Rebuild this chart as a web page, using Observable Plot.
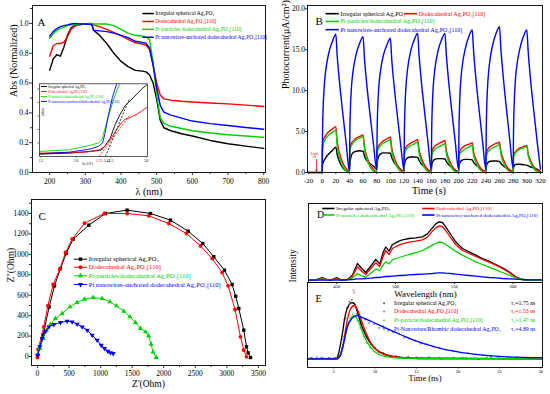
<!DOCTYPE html>
<html>
<head>
<meta charset="utf-8">
<script src="https://cdn.jsdelivr.net/npm/d3@7"></script>
<script src="https://cdn.jsdelivr.net/npm/@observablehq/plot@0.6"></script>
<style>
html,body{margin:0;padding:0;background:#fff;}
#wrap{position:relative;width:550px;height:394px;overflow:hidden;background:#fff;}
</style>
</head>
<body>
<div id="wrap"></div>
<script>
// ================= DATA =================
// Panel A : UV-vis absorption (normalized)
const absWl    = [200,210,220,230,240,250,260,270,280,300,318,323,340,360,380,400,420,440,460,470,480,490,500,510,520,540,570,600,650,700,750,800];
const absBlack = [.685,.76,.79,.78,.84,.92,.97,.985,.99,.995,1.0,.955,.92,.865,.80,.745,.71,.685,.68,.675,.655,.60,.49,.35,.30,.28,.26,.245,.215,.193,.177,.162];
const absRed   = [.78,.85,.865,.865,.875,.91,.96,.98,.99,.995,.997,.99,.978,.96,.94,.918,.893,.87,.862,.855,.825,.72,.60,.52,.494,.485,.478,.473,.466,.46,.452,.443];
const absGreen = [.90,.93,.952,.966,.975,.985,.99,.993,.996,.998,1.0,.997,.996,.996,.985,.96,.935,.92,.915,.91,.89,.74,.52,.37,.33,.31,.295,.28,.265,.253,.245,.236];
const absBlue  = [.915,.945,.965,.978,.985,.99,.996,1.0,.998,.996,.993,.955,.95,.945,.935,.92,.905,.88,.873,.868,.835,.72,.57,.45,.405,.385,.365,.345,.328,.315,.302,.29];
const absXTicks = [200,300,400,500,600,700,800];
const absYTicks = [0,0.2,0.4,0.6,0.8,1.0];
const labelsA = ["Irregular spherical Ag₃PO₄","Dodecahedral Ag₃PO₄[110]","Pt-particles dodecahedral Ag₃PO₄[110]","Pt nanowires-anchored dodecahedral Ag₃PO₄[110]"];

// Inset of A : Tauc plot
const insBlackE = [1.48,1.91,2.30,2.37,2.41,2.49,2.56,2.63,2.70,2.80,2.87,2.94,3.01];
const insBlackY = [7,10,17,20,30,55,95,125,150,170,185,200,212];
const insRedE   = [1.48,2.15,2.34,2.41,2.49,2.58,2.65,2.70,2.77,2.87,2.94,3.01];
const insRedY   = [10,13,20,30,50,80,100,110,115,125,135,145];
const insGreenE = [1.48,1.91,2.20,2.32,2.37,2.41,2.46,2.53,2.62];
const insGreenY = [15,20,33,40,50,80,115,165,215];
const insBlueE  = [1.48,1.91,2.20,2.32,2.38,2.41,2.46,2.52,2.58];
const insBlueY  = [8,13,22,30,40,65,120,175,215];
const insGapBlack = [2.42, 2.76, 0, 170];
const insGapRed   = [2.33, 2.78, 0, 125];
const insXTicks = [1.5,2.0,2.5,3.0];
const labelsInset = ["Irregular spherical Ag₃PO₄","Dodecahedral Ag₃PO₄[110]","Pt-particles/dodecahedral Ag₃PO₄[110]","Pt nanowires-anchored dodecahedral Ag₃PO₄[110]"];

// Panel B : photocurrent, 8 on/off cycles
const cycleStarts  = [0,40,80,120,160,200,240,280];
const cycleOffsets = [0,0.5,1.5,3,5,10,15,20,22,25,30,35];
const pcBlack = [
  [0,1.0,1.2,1.5,1.8,2.3,2.7,3.1,2.2,1.4,0.6,0.2],
  [0.1,0.9,1.6,2.1,2.4,2.6,2.65,2.6,2.0,1.5,1.1,0.8],
  [0.4,1.0,1.6,2.0,2.25,2.4,2.4,2.35,1.8,1.3,0.8,0.4],
  [0.1,0.8,1.3,1.6,1.8,1.9,1.9,1.85,1.5,1.1,0.7,0.35],
  [0.1,0.7,1.2,1.45,1.6,1.7,1.7,1.65,1.35,1.0,0.65,0.3],
  [0.1,0.7,1.1,1.35,1.5,1.6,1.6,1.55,1.25,0.95,0.6,0.3],
  [0.1,0.6,1.0,1.2,1.35,1.4,1.4,1.35,1.1,0.85,0.55,0.3],
  [0.1,0.5,0.8,0.95,1.0,1.0,0.95,0.9,0.8,0.7,0.55,0.4]];
const pcRed = [
  [0,3.5,3.9,4.2,4.5,5.0,5.3,5.6,3.8,2.5,1.2,0.5],
  [0.1,2.9,3.3,3.6,3.8,4.2,4.4,4.6,3.2,2.1,1.0,0.4],
  [0.1,2.7,3.0,3.3,3.5,3.9,4.1,4.3,3.0,2.0,0.95,0.35],
  [0.1,2.5,2.8,3.1,3.3,3.6,3.8,4.0,2.8,1.9,0.9,0.35],
  [0.1,2.4,2.7,3.0,3.2,3.5,3.7,3.9,2.7,1.8,0.85,0.3],
  [0.1,2.2,2.5,2.8,3.0,3.3,3.45,3.6,2.5,1.7,0.8,0.3],
  [0.1,2.3,2.6,2.85,3.05,3.35,3.55,3.7,2.6,1.75,0.8,0.3],
  [0.1,2.0,2.3,2.5,2.7,3.0,3.15,3.3,2.3,1.55,0.75,0.3]];
const pcGreen = [
  [0,3.0,3.4,3.8,4.1,4.6,4.9,5.2,3.3,2.0,0.8,0.2],
  [0.05,2.6,3.0,3.3,3.6,4.0,4.2,4.4,2.9,1.8,0.7,0.15],
  [0.05,2.3,2.7,3.0,3.2,3.6,3.8,4.0,2.6,1.6,0.65,0.15],
  [0.05,2.1,2.5,2.8,3.0,3.3,3.5,3.7,2.4,1.5,0.6,0.15],
  [0.05,2.0,2.3,2.6,2.8,3.1,3.3,3.5,2.3,1.4,0.55,0.1],
  [0.05,1.9,2.2,2.4,2.6,2.9,3.1,3.3,2.1,1.3,0.5,0.1],
  [0.05,1.9,2.2,2.5,2.7,3.0,3.2,3.4,2.2,1.35,0.5,0.1],
  [0.05,1.8,2.1,2.35,2.55,2.85,3.0,3.2,2.1,1.3,0.5,0.1]];
const pcBlue = [
  [0,4.5,8.0,10.5,12.3,14.7,16.0,16.9,14.3,11.4,7.4,3.7],
  [0.2,4.5,8.0,10.5,12.2,14.5,15.8,16.6,14.0,11.1,7.2,3.6],
  [0.4,4.6,8.0,10.4,12.1,14.4,15.6,16.4,13.8,11.0,7.1,3.5],
  [0.3,4.7,8.2,10.7,12.5,14.9,16.2,17.0,14.4,11.5,7.5,3.8],
  [0.3,4.7,8.2,10.7,12.5,14.9,16.2,17.0,14.4,11.5,7.5,3.8],
  [0.4,4.8,8.4,11.0,12.8,15.2,16.6,17.4,14.8,11.8,7.7,3.9],
  [0.4,4.9,8.6,11.2,13.1,15.6,17.0,17.8,15.1,12.1,7.9,4.0],
  [0.5,4.8,8.4,11.0,12.8,15.2,16.6,17.4,14.8,11.8,7.7,3.9]];
const pcEnd = {black: 0.1, red: 0.05, green: 0, blue: 0.4};
const pcXTicks = [-20,0,20,40,60,80,100,120,140,160,180,200,220,240,260,280,300,320];
const pcYTicks = [0,5,10,15,20];
const labelsB = ["Irregular spherical Ag₃PO₄","Dodecahedral Ag₃PO₄[110]","Pt-particles/dodecahedral Ag₃PO₄[110]","Pt nanowires-anchored dodecahedral Ag₃PO₄[110]"];

// Panel C : Nyquist plots
const cBlackX = [0,90,185,269,364,454,565,813,1077,1420,1790,2107,2387,2619,2793,2962,3083,3140,3189,3268,3311,3337,3374];
const cBlackY = [10,215,486,692,861,1008,1149,1286,1400,1433,1400,1335,1227,1106,976,845,705,590,470,258,95,36,-10];
const cRedX   = [0,10,100,164,248,354,444,549,745,1061,1420,1763,2080,2360,2582,2767,2925,3020,3130,3216,3268,3311];
const cRedY   = [-10,70,290,496,705,855,1018,1148,1305,1400,1400,1377,1302,1204,1083,959,822,692,460,193,62,-3];
const cGreenX = [5,37,90,143,206,285,391,512,628,745,882,1024,1146,1251,1367,1463,1552,1631,1711,1760,1800,1830,1880];
const cGreenY = [20,78,176,258,313,372,421,486,529,561,578,568,535,496,444,388,333,274,241,200,120,45,-10];
const cBlueX  = [5,37,74,127,180,259,364,470,549,628,708,787,866,945,1009,1061,1114,1156,1199];
const cBlueY  = [13,95,176,248,290,313,333,346,339,317,290,258,209,160,111,78,52,36,29];
const cXTicks = [0,500,1000,1500,2000,2500,3000,3500];
const cYTicks = [0,200,400,600,800,1000,1200,1400];

// Panel D : PL spectra
const dNm = [426.5,432.1,437.8,440.6,444.9,450,453.4,459.1,463.3,467.6,471.3,474.7,478.9,483.2,486.6,489.4,491.7,494.5,497.4,500.2,503,505.9,511.5,517.2,522.9,527.1,531.4,534.2,537.1,539.9,542.7,547,551.2,556.9,562.6,568.3,573.9,579.6,585.3,591,596.6,602.3,608,613.6,625];
const dBlack = [3,4,11,6,3,11,4,5,18,53,38,26,45,65,52,85,103,90,110,115,120,124,128,130,133,142,160,172,178,176,163,140,118,98,88,78,68,60,50,40,28,13,5,3,3];
const dRed   = [3,3,9,5,3,9,4,4,15,43,30,20,38,55,44,74,92,80,98,104,108,112,117,120,124,132,150,160,166,164,152,130,110,92,83,74,65,57,48,38,26,12,5,3,3];
const dGreen = [3,3,7,5,3,6,3,4,10,23,16,12,24,36,32,48,58,52,64,68,71,74,80,85,92,100,108,113,117,116,110,100,90,78,68,58,50,42,34,26,18,10,5,3,3];
const dBlue  = [3,3,4,3,3,4,3,4,5,7,7,8,9,11,11,13,14,14,15,16,17,17,19,20,21,22,23,24,25,25,24,23,21,19,17,15,13,11,10,8,7,6,5,4,4];
const dXTicks = [450,500,550,600];
const labelsD = ["Irregular spherical Ag₃PO₄","Dodecahedral Ag₃PO₄[110]","Pt-particles dodecahedral Ag₃PO₄[110]","Pt nanowires-anchored dodecahedral Ag₃PO₄[110]"];

// Panel E : TRPL decays (fits + raw points)
const eBlackT = [1.86,5.4,5.6,6.0,6.41,6.81,7.22,7.5,7.82,8.43,9.23,10.04,11.25,12.86,14.88,30.2];
const eBlackI = [0,0,0.09,0.39,0.77,0.95,1.0,0.98,0.86,0.57,0.33,0.18,0.08,0.03,0.01,0];
const eRedT   = [1.86,5.4,5.8,6.21,6.61,7.02,7.5,8.02,8.63,9.44,10.24,11.45,13.27,15.28,30.2];
const eRedI   = [0,0,0.06,0.3,0.66,0.88,0.95,0.83,0.57,0.30,0.15,0.06,0.02,0,0];
const eGreenT = [1.86,5.4,5.8,6.21,6.61,7.02,7.5,8.02,8.63,9.44,10.24,11.65,13.27,30.2];
const eGreenI = [0,0,0.05,0.25,0.52,0.70,0.77,0.66,0.42,0.21,0.10,0.03,0.01,0];
const eBlueT  = [1.86,5.4,5.8,6.21,6.61,7.22,7.82,8.43,9.64,11.25,13.27,15.28,17.3,19.31,22.14,25.36,30.2];
const eBlueI  = [0,0,0.05,0.27,0.55,0.72,0.77,0.74,0.66,0.55,0.42,0.30,0.21,0.14,0.08,0.04,0.02];
const ePtsBlack = [[2.2,0.01],[2.9,-0.01],[3.6,0.02],[4.3,0.0],[5.0,0.01],[5.6,0.08],[6.0,0.35],[6.3,0.7],[6.6,0.9],[6.9,1.02],[7.2,1.05],[7.4,0.99],[7.7,0.92],[8.0,0.78],[8.3,0.62],[8.7,0.48],[9.0,0.38],[9.5,0.26],[10.0,0.2],[10.5,0.12],[11.0,0.1],[11.8,0.06],[12.5,0.05],[13.3,0.02],[14.0,0.04],[15.2,0.01],[16.5,0.03],[18.0,0.0],[19.5,0.02],[21.0,0.01],[22.5,-0.01],[24.0,0.02],[25.5,0.0],[27.0,0.01],[28.5,0.02],[29.8,0.0]];
const ePtsRed = [[2.4,0.02],[3.1,0.0],[3.8,0.01],[4.6,0.02],[5.3,0.03],[5.8,0.12],[6.2,0.4],[6.5,0.72],[6.8,0.92],[7.1,1.0],[7.4,1.22],[7.5,1.18],[7.6,0.97],[7.9,0.85],[8.2,0.7],[8.5,0.55],[8.9,0.4],[9.3,0.3],[9.8,0.2],[10.4,0.13],[11.1,0.08],[11.9,0.05],[12.8,0.04],[13.8,0.02],[15.0,0.03],[16.3,0.01],[17.7,0.02],[19.2,0.0],[20.6,0.02],[22.0,0.01],[23.5,0.03],[25.0,0.0],[26.4,0.02],[27.9,0.01],[29.3,0.02]];
const ePtsGreen = [[2.6,0.0],[3.4,0.02],[4.1,0.01],[4.9,0.0],[5.5,0.04],[6.0,0.2],[6.4,0.45],[6.7,0.63],[7.0,0.72],[7.3,0.8],[7.6,0.75],[7.9,0.68],[8.2,0.55],[8.6,0.4],[9.0,0.28],[9.4,0.2],[9.9,0.13],[10.5,0.08],[11.2,0.05],[12.0,0.03],[13.0,0.02],[14.3,0.01],[15.7,0.02],[17.2,0.0],[18.8,0.01],[20.3,0.02],[21.8,0.0],[23.3,0.01],[24.8,0.02],[26.3,0.0],[27.8,0.01],[29.5,0.0]];
const ePtsBlue = [[2.3,0.02],[3.0,0.03],[3.7,0.01],[4.4,0.02],[5.2,0.02],[5.7,0.06],[6.1,0.25],[6.5,0.5],[6.9,0.66],[7.3,0.74],[7.8,0.8],[8.3,0.72],[8.8,0.7],[9.3,0.64],[9.9,0.62],[10.5,0.55],[11.0,0.58],[11.6,0.5],[12.2,0.47],[12.9,0.45],[13.5,0.38],[14.1,0.36],[14.8,0.33],[15.5,0.27],[16.2,0.26],[17.0,0.22],[17.8,0.2],[18.6,0.16],[19.4,0.15],[20.3,0.11],[21.2,0.1],[22.1,0.08],[23.0,0.06],[24.0,0.05],[25.0,0.04],[26.0,0.03],[27.1,0.03],[28.2,0.02],[29.3,0.02]];
const eXTicks = [5,10,15,20,25,30];
const labelsE = ["Irregular spherical Ag₃PO₄","Dodecahedral Ag₃PO₄[110]","Pt-particle/dodecahedral Ag₃PO₄[110]","Pt-Nanowires/Rhombic dodecahedral Ag₃PO₄"];
const tausE = ["τ₁=1.75 ns","τ₂=1.53 ns","τ₃=1.47 ns","τ₄=4.89 ns"];

// ================= HELPERS =================
const FONT = "'Liberation Serif','Times New Roman',serif";
const C4 = ["#000000","#ff0000","#00d200","#0000ff"];
const wrap = document.getElementById("wrap");
function place(svg, left, top) {
  svg.style.position = "absolute";
  svg.style.left = left + "px";
  svg.style.top = top + "px";
  wrap.appendChild(svg);
}
const baseStyle = () => ({fontFamily: FONT, fontSize: "8px", background: "transparent", overflow: "visible", color: "#000"});
function ax(dim, ticks, o = {}) {
  const f = dim === "x" ? Plot.axisX : Plot.axisY;
  return f({ticks, label: null, tickSize: o.size ?? 3, tickPadding: o.pad ?? 1, fontSize: o.fs ?? 7.5,
    tickFormat: o.fmt ?? (d => String(d)), strokeWidth: 0.8});
}
function minor(dim, ticks, size = 2) {
  const f = dim === "x" ? Plot.axisX : Plot.axisY;
  return f({ticks, label: null, tickSize: size, tickFormat: () => "", strokeWidth: 0.8});
}
function lineLegend(labels, colors, {x1, x2, xt, ys, fs, sw = 1.5, symbols, r = 2}) {
  const m = [];
  labels.forEach((lab, i) => {
    m.push(Plot.link([lab], {x1, x2, y1: ys[i], y2: ys[i], stroke: colors[i], strokeWidth: sw}));
    if (symbols) m.push(Plot.dot([lab], {x: (x1 + x2) / 2, y: ys[i], symbol: symbols[i], r, fill: colors[i], stroke: "none"}));
    m.push(Plot.text([lab], {x: xt, y: ys[i], text: d => d, fill: colors[i], textAnchor: "start", fontSize: fs}));
  });
  return m;
}
const triDown = {draw(ctx, size) { const y = Math.sqrt(size / (Math.sqrt(3) * 3)); const s = Math.sqrt(3) * y;
  ctx.moveTo(0, 2 * y); ctx.lineTo(-s, -y); ctx.lineTo(s, -y); ctx.closePath(); }};

// ================= PANEL A =================
const absSeries = [absBlack, absRed, absGreen, absBlue];
place(Plot.plot({
  width: 275, height: 200, marginLeft: 32, marginRight: 10, marginTop: 5, marginBottom: 28,
  x: {domain: [152, 805]}, y: {domain: [0, 1.12]},
  style: baseStyle(),
  marks: [
    ax("x", absXTicks, {pad: 3}),
    minor("x", [250,350,450,550,650,750]),
    ax("y", absYTicks, {fmt: d => d.toFixed(1)}),
    minor("y", [0.1,0.3,0.5,0.7,0.9,1.1]),
    ...absSeries.map((v, i) => Plot.line(v, {x: absWl, y: v, stroke: C4[i], strokeWidth: 1.4})),
    Plot.frame({stroke: "#000", strokeWidth: 0.9}),
    Plot.text(["A"], {frameAnchor: "top-left", dx: 5, dy: 13, fontSize: 11}),
    Plot.text(["λ (nm)"], {frameAnchor: "bottom", dy: 22, fontSize: 10}),
    Plot.text(["Abs (Normalized)"], {frameAnchor: "left", dx: -19, dy: 8, rotate: -90, fontSize: 10}),
    ...lineLegend(labelsA, C4, {x1: 460, x2: 492, xt: 496, ys: [1.066, 1.013, 0.96, 0.907], fs: 5.5})
  ]
}), 0, 0);

// Inset
const insSeries = [[insBlackE, insBlackY],[insRedE, insRedY],[insGreenE, insGreenY],[insBlueE, insBlueY]];
place(Plot.plot({
  width: 130, height: 92, marginLeft: 14, marginRight: 8, marginTop: 5.3, marginBottom: 14,
  x: {domain: [1.48, 3.02]}, y: {domain: [0, 215]},
  style: baseStyle(),
  marks: [
    Plot.frame({fill: "#fff"}),
    Plot.axisX({ticks: insXTicks, label: null, tickSize: 1.5, tickPadding: 1.5, fontSize: 3.5, tickFormat: d => d.toFixed(1), strokeWidth: 0.6}),
    Plot.axisY({ticks: [40,80,120,160,200], label: null, tickSize: 1.5, tickFormat: () => "", strokeWidth: 0.6}),
    ...insSeries.map(([e, y], i) => Plot.line(y, {x: e, y, stroke: C4[i], strokeWidth: 0.9, clip: true})),
    Plot.link([insGapBlack], {x1: d => d[0], x2: d => d[1], y1: d => d[2], y2: d => d[3], stroke: "#000", strokeWidth: 0.8, strokeDasharray: "2,1.5"}),
    Plot.link([insGapRed], {x1: d => d[0], x2: d => d[1], y1: d => d[2], y2: d => d[3], stroke: "#ff0000", strokeWidth: 0.8, strokeDasharray: "2,1.5"}),
    Plot.text([insGapRed], {x: d => d[0], y: 0, text: d => d[0].toFixed(2), dy: 4.7, fill: "#ff0000", fontSize: 3.5}),
    Plot.text([insGapBlack], {x: d => d[0], y: 0, text: d => d[0].toFixed(2), dy: 4.7, dx: 1.5, fill: "#000", fontSize: 3.5}),
    Plot.frame({stroke: "#333", strokeWidth: 0.8}),
    Plot.text(["hν (eV)"], {frameAnchor: "bottom", dx: -6, dy: 8.5, fontSize: 3.5}),
    Plot.text(["(αhν)²"], {frameAnchor: "left", dx: 3, dy: -4, rotate: -90, fontSize: 3.5}),
    ...lineLegend(labelsInset, C4, {x1: 1.50, x2: 1.585, xt: 1.605, ys: [207, 192, 177, 163], fs: 3.5, sw: 1})
  ]
}), 25, 78);

// ================= PANEL B =================
function buildPc(cycles, end, withPre) {
  const t = [], v = [];
  if (withPre) { t.push(-20); v.push(0); }
  cycles.forEach((vals, k) => vals.forEach((val, j) => { t.push(cycleStarts[k] + cycleOffsets[j]); v.push(val); }));
  t.push(320); v.push(end);
  return {t, v};
}
const pcSeries = [buildPc(pcBlack, pcEnd.black, true), buildPc(pcRed, pcEnd.red, true), buildPc(pcGreen, pcEnd.green, false), buildPc(pcBlue, pcEnd.blue, false)];
place(Plot.plot({
  width: 275, height: 200, marginLeft: 32, marginRight: 8, marginTop: 5, marginBottom: 28,
  x: {domain: [-21.5, 323]}, y: {domain: [0, 20.4]},
  style: baseStyle(),
  marks: [
    ax("x", pcXTicks, {pad: 4, size: 2, fs: 7}),
    ax("y", pcYTicks, {size: 2, pad: 0.5, fmt: d => d.toFixed(1)}),
    ...pcSeries.map((s, i) => Plot.line(s.v, {x: s.t, y: s.v, stroke: C4[i], strokeWidth: 1.4, curve: "monotone-x"})),
    Plot.frame({stroke: "#000", strokeWidth: 0.9}),
    Plot.text(["B"], {frameAnchor: "top-left", dx: 8, dy: 12, fontSize: 11}),
    Plot.text(["Time (s)"], {frameAnchor: "bottom", dx: 4, dy: 21, fontSize: 10}),
    Plot.text(["Photocurrent(μA/cm²)"], {frameAnchor: "left", dx: -22, rotate: -90, fontSize: 10}),
    Plot.text(["Light"], {x: -11.2, y: 2.3, text: d => d, fill: "#ff0000", fontSize: 3.5}),
    Plot.text(["on"], {x: -11.2, y: 1.85, text: d => d, fill: "#ff0000", fontSize: 3.5}),
    Plot.arrow([0], {x1: -8.3, y1: 1.6, x2: -8.3, y2: 0.15, stroke: "#ff0000", strokeWidth: 0.8, headLength: 3}),
    ...lineLegend([labelsB[0], labelsB[2], labelsB[3]], [C4[0], C4[2], C4[3]], {x1: 4.9, x2: 24.4, xt: 26.9, ys: [19.4, 18.45, 17.45], fs: 6, sw: 1.6}),
    ...lineLegend([labelsB[1]], [C4[1]], {x1: 119.7, x2: 139.3, xt: 141.7, ys: [19.4], fs: 6, sw: 1.6})
  ]
}), 275, 0);

// ================= PANEL C =================
const cSeries = [[cBlackX, cBlackY, "square"], [cRedX, cRedY, "circle"], [cGreenX, cGreenY, "triangle"], [cBlueX, cBlueY, triDown]];
place(Plot.plot({
  width: 275, height: 199, marginLeft: 31, marginRight: 10, marginTop: 4, marginBottom: 29,
  x: {domain: [-95, 3612]}, y: {domain: [-88, 1537]},
  style: baseStyle(),
  marks: [
    ax("x", cXTicks, {pad: 2.5}),
    minor("x", [250,750,1250,1750,2250,2750,3250]),
    ax("y", cYTicks, {size: 2.5, pad: 0.5}),
    minor("y", [100,300,500,700,900,1100,1300,1500]),
    ...cSeries.flatMap(([x, y, sym], i) => [
      Plot.line(y, {x, y, stroke: C4[i], strokeWidth: 1}),
      Plot.dot(y, {x, y, symbol: sym, r: 1.9, fill: C4[i], stroke: "none"})
    ]),
    Plot.frame({stroke: "#000", strokeWidth: 0.9}),
    Plot.text(["C"], {frameAnchor: "top-left", dx: 7, dy: 13, fontSize: 11}),
    Plot.text(["Z'(Ohm)"], {frameAnchor: "bottom", dy: 21, fontSize: 9.5}),
    Plot.text(["Z''(Ohm)"], {frameAnchor: "left", dx: -21, rotate: -90, fontSize: 9.5}),
    ...lineLegend(labelsB, C4, {x1: 575, x2: 787, xt: 813, ys: [953, 874, 790, 705], fs: 6.5, sw: 1, symbols: cSeries.map(d => d[2]), r: 1.9})
  ]
}), 0, 195);

// ================= PANEL D =================
const dSeries = [dBlack, dRed, dGreen, dBlue];
place(Plot.plot({
  width: 275, height: 100, marginLeft: 33, marginRight: 8, marginTop: 5, marginBottom: 16,
  x: {domain: [426, 625]}, y: {domain: [-4, 233], axis: null},
  style: baseStyle(),
  marks: [
    ax("x", dXTicks, {size: 2, pad: 0.6, fs: 4.5}),
    ...dSeries.map((v, i) => Plot.line(v, {x: dNm, y: v, stroke: C4[i], strokeWidth: 1.3})),
    Plot.frame({stroke: "#000", strokeWidth: 0.9}),
    Plot.text(["D"], {frameAnchor: "top-left", dx: 8.5, dy: 7, fontSize: 10}),
    Plot.text(["Wavelength (nm)"], {frameAnchor: "bottom", dy: 14.8, fontSize: 9}),
    ...lineLegend([labelsD[0], labelsD[2]], [C4[0], C4[2]], {x1: 437.7, x2: 448.1, xt: 449.6, ys: [218, 198.5], fs: 5, sw: 1.6}),
    ...lineLegend([labelsD[1], labelsD[3]], [C4[1], C4[3]], {x1: 522.7, x2: 533.2, xt: 534.6, ys: [218, 198.5], fs: 5, sw: 1.6})
  ]
}), 275, 198);

// ================= PANEL E =================
const eLines = [[eBlackT, eBlackI], [eRedT, eRedI], [eGreenT, eGreenI], [eBlueT, eBlueI]];
const ePts = [ePtsBlack, ePtsRed, ePtsGreen, ePtsBlue];
const ePtColors = ["#666666", "#ff6a6a", "#5ee05e", "#7474ff"];
const eRows = [0.99, 0.843, 0.683, 0.535];
place(Plot.plot({
  width: 275, height: 124, marginLeft: 32, marginRight: 8, marginTop: 12, marginBottom: 27,
  x: {domain: [1.86, 30.2]}, y: {domain: [-0.155, 1.36], axis: null},
  style: baseStyle(),
  marks: [
    ax("x", eXTicks, {size: 1.5, pad: 0.5, fs: 4.5}),
    ...ePts.map((p, i) => Plot.dot(p, {x: d => d[0], y: d => d[1], r: 0.9, fill: ePtColors[i], stroke: "none"})),
    ...eLines.map(([t, v], i) => Plot.line(v, {x: t, y: v, stroke: C4[i], strokeWidth: 1.3, curve: "monotone-x"})),
    Plot.frame({stroke: "#000", strokeWidth: 0.9}),
    Plot.text(["E"], {frameAnchor: "top-left", dx: 8, dy: 12, fontSize: 10}),
    Plot.text(["Time (ns)"], {frameAnchor: "bottom", dy: 13, fontSize: 8.5}),
    Plot.text(["Intensity"], {frameAnchor: "top-left", dx: -18, rotate: -90, fontSize: 9.5}),
    ...labelsE.flatMap((lab, i) => [
      Plot.dot([lab], {x: 11.09, y: eRows[i], r: 1.1, fill: ePtColors[i], stroke: "none"}),
      Plot.text([lab], {x: 12.3, y: eRows[i], text: d => d, fill: C4[i], textAnchor: "start", fontSize: 5.8}),
      Plot.text([tausE[i]], {x: 26.4, y: eRows[i], text: d => d, fill: C4[i], textAnchor: "start", fontSize: 5.8})
    ])
  ]
}), 275, 270);
</script>
</body>
</html>
